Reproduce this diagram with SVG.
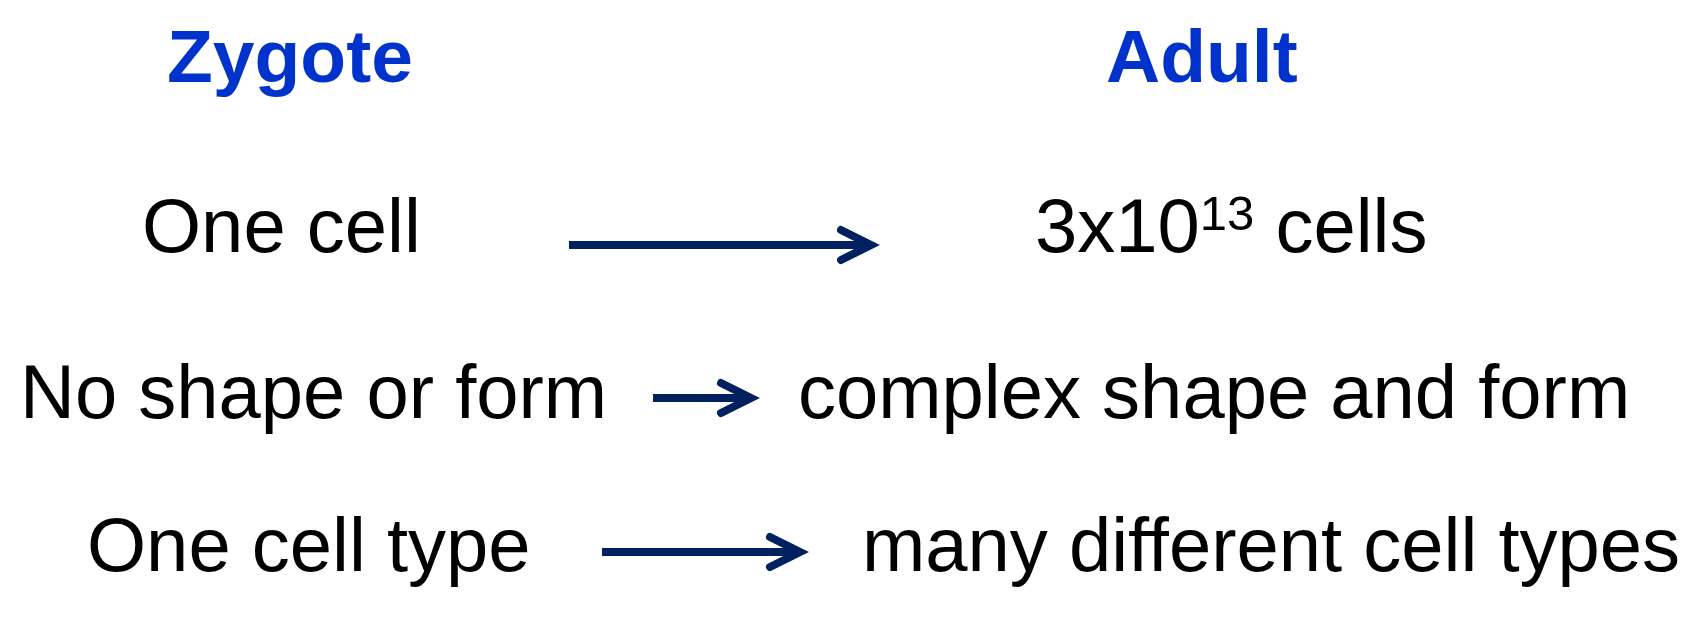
<svg xmlns="http://www.w3.org/2000/svg" width="1708" height="625" viewBox="0 0 1708 625">
  <style>
    .title { font-family: "Liberation Sans", Arial, sans-serif; font-weight: bold; font-size: 75px; fill: #0033CC; }
    .body { font-family: "Liberation Sans", Arial, sans-serif; font-size: 76px; fill: #000000; }
    .sup { font-size: 49px; }
    .conn { stroke: #002060; stroke-width: 8; fill: none; }
  </style>
  <defs>
    <marker id="head" markerUnits="userSpaceOnUse" markerWidth="50" markerHeight="50" viewBox="-40 -25 50 50" refX="0" refY="0" orient="auto" overflow="visible">
      <path d="M -30 -15 L 0 0 L -30 15" stroke="#002060" stroke-width="8" stroke-linecap="round" stroke-linejoin="miter" fill="none"/>
    </marker>
  </defs>
  <rect width="1708" height="625" fill="#ffffff"/>

  <g id="zygote-title"><text class="title" x="167" y="82">Zygote</text></g>
  <g id="adult-title"><text class="title" x="1106" y="82">Adult</text></g>

  <g id="one-cell"><text class="body" x="142" y="252">One cell</text></g>
  <g id="many-cells"><text class="body" x="1035" y="252">3x10<tspan class="sup" dy="-22">13</tspan><tspan dy="22"> cells</tspan></text></g>

  <g id="no-shape"><text class="body" x="20" y="418">No shape or form</text></g>
  <g id="complex-shape"><text class="body" x="798" y="418">complex shape and form</text></g>

  <g id="one-cell-type"><text class="body" x="87" y="571">One cell type</text></g>
  <g id="many-types"><text class="body" x="862" y="571">many different cell types</text></g>

  <g id="connectors">
    <line class="conn" x1="569" y1="245" x2="871" y2="245" marker-end="url(#head)"/>
    <line class="conn" x1="653" y1="398" x2="751" y2="398" marker-end="url(#head)"/>
    <line class="conn" x1="602" y1="552" x2="800" y2="552" marker-end="url(#head)"/>
  </g>
</svg>
